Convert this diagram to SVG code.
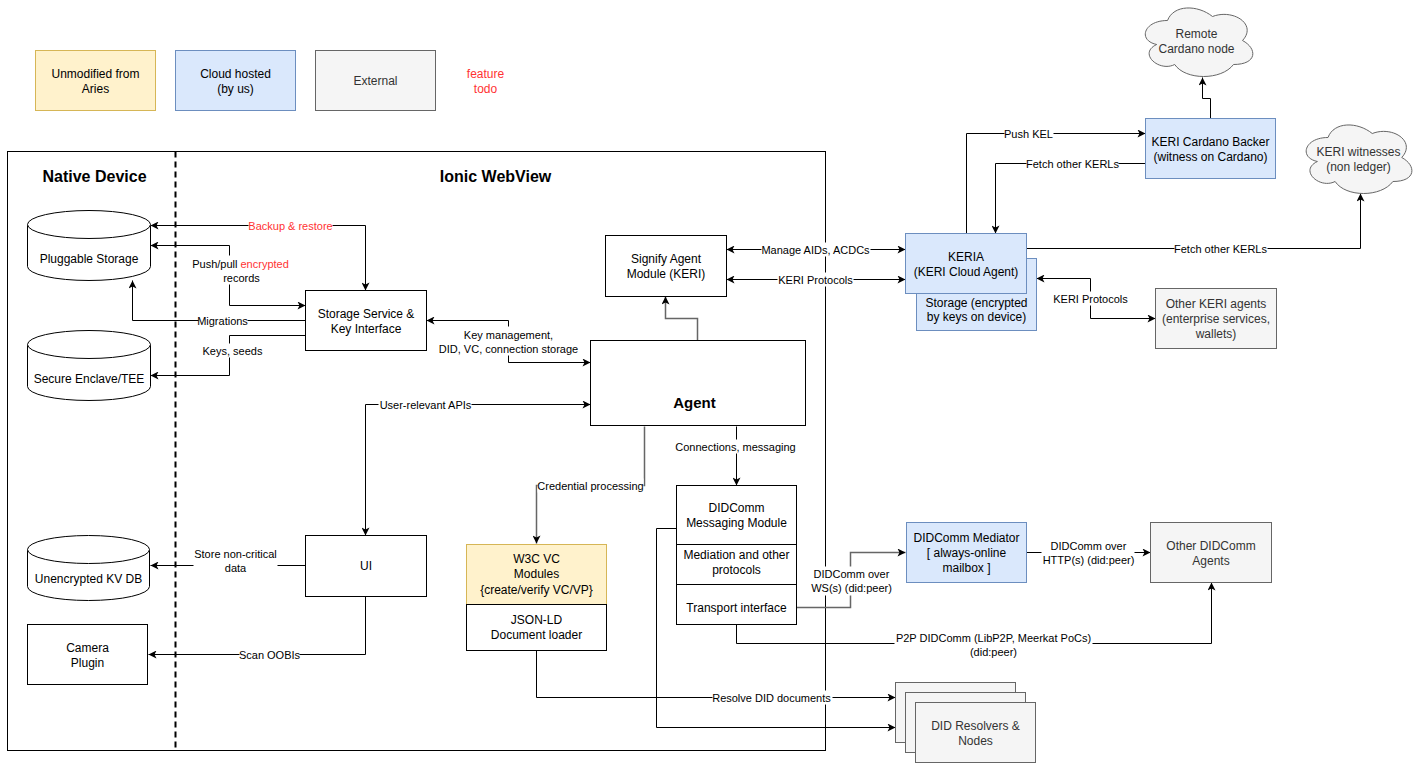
<svg xmlns="http://www.w3.org/2000/svg" width="1424" height="779" viewBox="0 0 1424 779">
<style>
text{font-family:"Liberation Sans",Arial,sans-serif;font-size:12px;text-anchor:middle;fill:#000}
.el{font-size:11px}
.dk{fill:#333}
.red{fill:#ff3333}
.ttl{font-size:16px;font-weight:bold}
.n{fill:#fff;stroke:#000;stroke-width:1}
.y{fill:#fff2cc;stroke:#d6b656;stroke-width:1}
.b{fill:#dae8fc;stroke:#6c8ebf;stroke-width:1}
.g{fill:#f5f5f5;stroke:#666;stroke-width:1}
.c{fill:none;stroke:#000;stroke-width:1}
.cg{fill:none;stroke:#666;stroke-width:1.5}
.bg{fill:#fff}
</style>
<defs>
<marker id="a" viewBox="0 0 10 10" refX="10" refY="5" markerWidth="9" markerHeight="8" markerUnits="userSpaceOnUse" orient="auto-start-reverse">
<path d="M0,0 L10,5 L0,10 L2.5,5 Z" fill="#000"/>
</marker>
</defs>
<rect width="1424" height="779" fill="#fff"/>
<g transform="translate(0.5,0.5)">
<g id="legend">
<rect class="y" x="35" y="50" width="120" height="60"/>
<text x="95" y="77">Unmodified from</text><text x="95" y="92">Aries</text>
<rect class="b" x="175" y="50" width="120" height="60"/>
<text x="235" y="77">Cloud hosted</text><text x="235" y="92">(by us)</text>
<rect class="g" x="315" y="50" width="120" height="60"/>
<text class="dk" x="375" y="84">External</text>
<text class="red" x="485" y="77">feature</text><text class="red" x="485" y="92">todo</text>
</g>

<g id="container">
<rect x="7" y="151" width="818" height="599" fill="none" stroke="#000"/>
<line x1="175" y1="151" x2="175" y2="750" stroke="#000" stroke-width="2" stroke-dasharray="6 4"/>
<text class="ttl" x="94" y="181">Native Device</text>
<text class="ttl" x="495" y="181">Ionic WebView</text>
</g>

<g id="connectors">
<path class="c" d="M150,225 H365 V290" marker-start="url(#a)" marker-end="url(#a)"/>
<path class="c" d="M150,245 H229 V305 H305" marker-start="url(#a)" marker-end="url(#a)"/>
<path class="c" d="M305,320 H132 V280" marker-end="url(#a)"/>
<path class="c" d="M305,335 H229 V375 H150" marker-end="url(#a)"/>
<path class="c" d="M426,320 H508 V362 H590" marker-start="url(#a)" marker-end="url(#a)"/>
<path class="cg" d="M697,340 V318 H665 V296" marker-end="url(#a)"/>
<path class="c" d="M726,249 H905" marker-start="url(#a)" marker-end="url(#a)"/>
<path class="c" d="M726,279 H905" marker-start="url(#a)" marker-end="url(#a)"/>
<path class="c" d="M966,233 V133 H1145" marker-end="url(#a)"/>
<path class="c" d="M1145,163 H995 V233" marker-end="url(#a)"/>
<path class="c" d="M1210,118 V98 H1202 V77" marker-end="url(#a)"/>
<path class="c" d="M1026,248 H1360 V193" marker-end="url(#a)"/>
<path class="c" d="M1036,278 H1090 V318 H1155" marker-start="url(#a)" marker-end="url(#a)"/>
<path class="c" d="M365,535 V404 H590" marker-start="url(#a)" marker-end="url(#a)"/>
<path class="c" d="M305,565 H150" marker-end="url(#a)"/>
<path class="c" d="M365,596 V654 H148" marker-end="url(#a)"/>
<path class="cg" d="M644,426 V485 H536 V543" marker-end="url(#a)"/>
<path class="c" d="M736,426 V485" marker-end="url(#a)"/>
<path class="cg" d="M796,607 H850 V552 H905" marker-end="url(#a)"/>
<path class="c" d="M1026,552 H1150" marker-end="url(#a)"/>
<path class="c" d="M736,624 V643 H1211 V582" marker-end="url(#a)"/>
<path class="c" d="M536,650 V697 H895" marker-end="url(#a)"/>
<path class="c" d="M676,528 H656 V727 H895" marker-end="url(#a)"/>

<rect class="bg" x="248" y="218" width="84" height="14"/>
<text class="el red" x="290" y="229">Backup &amp; restore</text>
<rect class="bg" x="192" y="255" width="97" height="29"/>
<text class="el" x="240" y="267">Push/pull <tspan class="red">encrypted</tspan></text>
<text class="el" x="241" y="281">records</text>
<rect class="bg" x="198" y="313" width="49" height="14"/>
<text class="el" x="222" y="324">Migrations</text>
<rect class="bg" x="201" y="343" width="62" height="14"/>
<text class="el" x="232" y="354">Keys, seeds</text>
<rect class="bg" x="437" y="326" width="143" height="29"/>
<text class="el" x="508" y="338">Key management,</text>
<text class="el" x="508" y="352">DID, VC, connection storage</text>
<rect class="bg" x="761" y="242" width="109" height="14"/>
<text class="el" x="815" y="253">Manage AIDs, ACDCs</text>
<rect class="bg" x="777" y="272" width="76" height="14"/>
<text class="el" x="815" y="283">KERI Protocols</text>
<rect class="bg" x="1004" y="126" width="49" height="14"/>
<text class="el" x="1028" y="137">Push KEL</text>
<rect class="bg" x="1026" y="156" width="92" height="14"/>
<text class="el" x="1072" y="167">Fetch other KERLs</text>
<rect class="bg" x="1174" y="241" width="93" height="14"/>
<text class="el" x="1220" y="252">Fetch other KERLs</text>
<rect class="bg" x="1053" y="291" width="74" height="14"/>
<text class="el" x="1090" y="302">KERI Protocols</text>
<rect class="bg" x="378" y="397" width="93" height="14"/>
<text class="el" x="425" y="408">User-relevant APIs</text>
<rect class="bg" x="193" y="545" width="84" height="29"/>
<text class="el" x="235" y="557">Store non-critical</text>
<text class="el" x="235" y="571">data</text>
<rect class="bg" x="239" y="647" width="60" height="14"/>
<text class="el" x="269" y="658">Scan OOBIs</text>
<rect class="bg" x="537" y="478" width="106" height="14"/>
<text class="el" x="590" y="489">Credential processing</text>
<rect class="bg" x="676" y="439" width="120" height="14"/>
<text class="el" x="735" y="450">Connections, messaging</text>
<rect class="bg" x="809" y="566" width="84" height="29"/>
<text class="el" x="851" y="577">DIDComm over</text>
<text class="el" x="851" y="591">WS(s) (did:peer)</text>
<rect class="bg" x="1041" y="538" width="93" height="29"/>
<text class="el" x="1088" y="549">DIDComm over</text>
<text class="el" x="1088" y="563">HTTP(s) (did:peer)</text>
<rect class="bg" x="894" y="630" width="198" height="28"/>
<text class="el" x="993" y="641">P2P DIDComm (LibP2P, Meerkat PoCs)</text>
<text class="el" x="993" y="655">(did:peer)</text>
<rect class="bg" x="712" y="690" width="120" height="14"/>
<text class="el" x="771" y="701">Resolve DID documents</text>
</g>

<g id="pluggable-storage">
<path class="n" d="M27,224 A61.5,14 0 0 1 150,224 V266 A61.5,14 0 0 1 27,266 Z"/>
<path class="n" d="M27,224 A61.5,14 0 0 0 150,224"/>
<text x="88.5" y="262">Pluggable Storage</text>
</g>
<g id="secure-enclave">
<path class="n" d="M27,344 A61.5,14 0 0 1 150,344 V386 A61.5,14 0 0 1 27,386 Z"/>
<path class="n" d="M27,344 A61.5,14 0 0 0 150,344"/>
<text x="88.5" y="382">Secure Enclave/TEE</text>
</g>
<g id="unencrypted-kv">
<path class="n" d="M27,549 A61,14 0 0 1 149,549 V586 A61,14 0 0 1 27,586 Z"/>
<path class="n" d="M27,549 A61,14 0 0 0 149,549"/>
<text x="88" y="582">Unencrypted KV DB</text>
</g>
<g id="camera">
<rect class="n" x="27" y="624" width="120" height="60"/>
<text x="87" y="651">Camera</text><text x="87" y="666">Plugin</text>
</g>
<g id="storage-service">
<rect class="n" x="305" y="290" width="121" height="60"/>
<text x="365.5" y="317">Storage Service &amp;</text><text x="365.5" y="332">Key Interface</text>
</g>
<g id="ui">
<rect class="n" x="305" y="535" width="121" height="61"/>
<text x="365.5" y="569">UI</text>
</g>
<g id="agent">
<rect class="n" x="590" y="340" width="215" height="85"/>
<text x="694" y="407" style="font-size:15px;font-weight:bold">Agent</text>
</g>
<g id="signify">
<rect class="n" x="605" y="235" width="121" height="61"/>
<text x="665.5" y="262">Signify Agent</text><text x="665.5" y="277">Module (KERI)</text>
</g>
<g id="keria">
<rect class="b" x="916" y="258" width="120" height="72"/>
<text x="976" y="306">Storage (encrypted</text><text x="976" y="320">by keys on device)</text>
<rect class="b" x="905" y="233" width="121" height="60"/>
<text x="965.5" y="260">KERIA</text><text x="965.5" y="275">(KERI Cloud Agent)</text>
</g>
<g id="cardano-backer">
<rect class="b" x="1145" y="118" width="130" height="60"/>
<text x="1210" y="145">KERI Cardano Backer</text><text x="1210" y="160">(witness on Cardano)</text>
</g>
<g id="remote-cardano">
<path class="g" d="M1167,20 C1143,20 1137,40 1156.2,44 C1137,52.8 1158.6,72 1174.2,64 C1185,80 1221,80 1233,64 C1257,64 1257,48 1242,40 C1257,24 1233,8 1212,16 C1197,4 1173,4 1167,20 Z"/>
<text class="dk" x="1196" y="37">Remote</text><text class="dk" x="1196" y="52">Cardano node</text>
</g>
<g id="keri-witnesses">
<path class="g" d="M1327.5,137 C1303.9,137 1298,157 1316.9,161 C1298,169.8 1319.2,189 1334.6,181 C1345.2,197 1380.6,197 1392.4,181 C1416,181 1416,165 1401.25,157 C1416,141 1392.4,125 1371.75,133 C1357,121 1333.4,121 1327.5,137 Z"/>
<text class="dk" x="1358" y="155">KERI witnesses</text><text class="dk" x="1358" y="170">(non ledger)</text>
</g>
<g id="other-keri">
<rect class="g" x="1155" y="288" width="121" height="60"/>
<text class="dk" x="1215.5" y="307">Other KERI agents</text><text class="dk" x="1215.5" y="322">(enterprise services,</text><text class="dk" x="1215.5" y="337">wallets)</text>
</g>
<g id="w3c-vc">
<rect class="y" x="466" y="544" width="140" height="60"/>
<text x="536" y="562">W3C VC</text><text x="536" y="577">Modules</text><text x="536" y="593">{create/verify VC/VP}</text>
<rect class="n" x="466" y="604" width="140" height="46"/>
<text x="536" y="623">JSON-LD</text><text x="536" y="638">Document loader</text>
</g>
<g id="didcomm-module">
<rect class="n" x="676" y="485" width="120" height="139"/>
<line x1="676" y1="544" x2="796" y2="544" stroke="#000"/>
<line x1="676" y1="584" x2="796" y2="584" stroke="#000"/>
<text x="736" y="511">DIDComm</text><text x="736" y="526">Messaging Module</text>
<text x="736" y="558">Mediation and other</text><text x="736" y="573">protocols</text>
<text x="736" y="611">Transport interface</text>
</g>
<g id="mediator">
<rect class="b" x="906" y="522" width="120" height="60"/>
<text x="966" y="541">DIDComm Mediator</text><text x="966" y="556">[ always-online</text><text x="966" y="571">mailbox ]</text>
</g>
<g id="other-didcomm">
<rect class="g" x="1150" y="522" width="121" height="60"/>
<text class="dk" x="1210.5" y="549">Other DIDComm</text><text class="dk" x="1210.5" y="564">Agents</text>
</g>
<g id="did-resolvers">
<rect class="g" x="895" y="682" width="120" height="60"/>
<rect class="g" x="905" y="692" width="120" height="60"/>
<rect class="g" x="915" y="702" width="120" height="60"/>
<text class="dk" x="975" y="729">DID Resolvers &amp;</text><text class="dk" x="975" y="744">Nodes</text>
</g>
</g>
</svg>
